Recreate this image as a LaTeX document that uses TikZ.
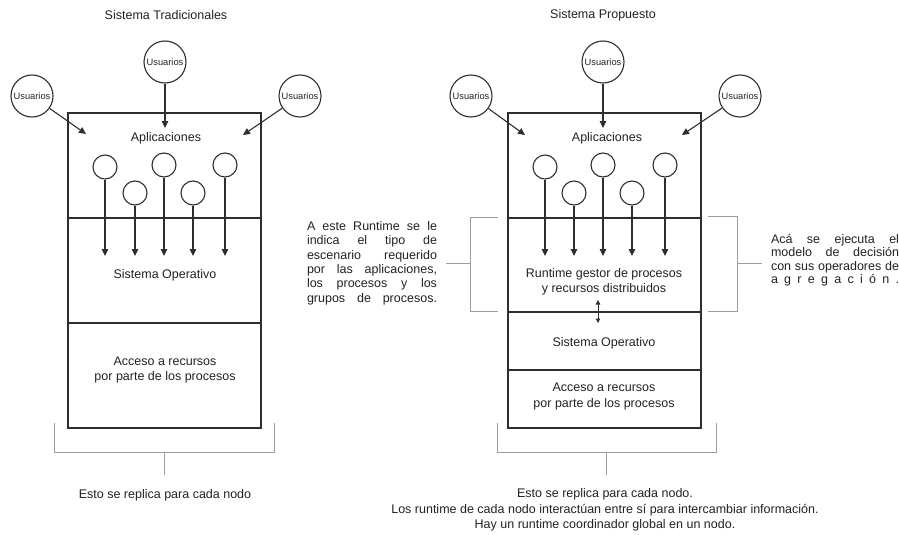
\documentclass[tikz,border=0pt]{standalone}
\usepackage{fontspec}
\setmainfont{Liberation Sans}
\usetikzlibrary{arrows.meta}
\definecolor{ink}{HTML}{222222}
\definecolor{edge}{HTML}{2E2E2E}
\definecolor{brk}{HTML}{9C9C9C}
\begin{document}
\begin{tikzpicture}[x=1pt,y=-1pt,
  txt/.style={font=\fontsize{12.5}{15.5}\selectfont, text=ink, inner sep=0pt, align=center},
  side/.style={font=\fontsize{12.5}{#1}\selectfont, text=ink, inner sep=0pt, align=left},
  user/.style={circle, draw=edge, line width=1.1pt, minimum size=42pt, inner sep=0pt,
    font=\fontsize{9.3}{10}\selectfont, text=ink},
  proc/.style={circle, draw=edge, line width=1.1pt, minimum size=24pt, inner sep=0pt},
  layer/.style={rectangle, draw=edge, line width=1.3pt, inner sep=0pt, minimum width=193pt},
  flow/.style={draw=edge, line width=1.1pt, -{Triangle[length=7pt,width=6.5pt]}},
  dflow/.style={draw=edge, line width=0.8pt, {Triangle[length=4.5pt,width=4.5pt]}-{Triangle[length=4.5pt,width=4.5pt]}},
  brace/.style={draw=brk, line width=1pt},
]
\useasboundingbox (0,0) rectangle (899,535);

% ---------- titles ----------
\node[txt] (title-a) at (166,15) {Sistema Tradicionales};
\node[txt] (title-b) at (603,15) {Sistema Propuesto};

% ---------- traditional stack ----------
\node[layer, minimum height=105pt] (apps-a) at (164.5,165.5) {};
\node[layer, minimum height=105pt] (os-a)   at (164.5,270.5) {};
\node[layer, minimum height=105pt] (acc-a)  at (164.5,375.5) {};
\node[txt] (apps-a-t) at (166,138) {Aplicaciones};
\node[txt] (os-a-t)   at (165,275) {Sistema Operativo};
\node[txt] (acc-a-t)  at (165,370) {Acceso a recursos\\por parte de los procesos};

% users
\node[user] (ua1) at (32,96)  {Usuarios};
\node[user] (ua2) at (165,62) {Usuarios};
\node[user] (ua3) at (300,96) {Usuarios};
\coordinate (ta1) at (86,134);
\coordinate (ta2) at (165,128);
\coordinate (ta3) at (243,135);
\draw[flow] (ua1) -- (ta1);
\draw[flow] (ua2) -- (ta2);
\draw[flow] (ua3) -- (ta3);

% application processes
\foreach \i/\x/\y in {1/105/167,2/135/193,3/164/165,4/193/193,5/225/165}{
  \node[proc] (pa\i) at (\x,\y) {};
  \coordinate (ea\i) at (\x,256);
  \draw[flow] (pa\i) -- (ea\i);
}

% replication bracket
\coordinate (ba1) at (54,423);
\coordinate (ba2) at (54,452);
\coordinate (ba3) at (274,452);
\coordinate (ba4) at (274,423);
\coordinate (ba5) at (164,452);
\coordinate (ba6) at (164,475);
\draw[brace] (ba1) -- (ba2) -- (ba3) -- (ba4);
\draw[brace] (ba5) -- (ba6);
\node[txt] (note-a) at (165,495) {Esto se replica para cada nodo};

% ---------- proposed stack ----------
\node[layer, minimum height=105pt] (apps-b) at (604.5,165.5) {};
\node[layer, minimum height=94pt]  (rt-b)   at (604.5,265) {};
\node[layer, minimum height=58pt]  (os-b)   at (604.5,341) {};
\node[layer, minimum height=58pt]  (acc-b)  at (604.5,399) {};
\node[txt] (apps-b-t) at (607,138) {Aplicaciones};
\node[txt] (rt-b-t)   at (604,282) {Runtime gestor de procesos\\y recursos distribuidos};
\node[txt] (os-b-t)   at (604,343) {Sistema Operativo};
\node[txt] (acc-b-t)  at (604,396.5) {Acceso a recursos\\por parte de los procesos};

% runtime <-> operating system
\coordinate (da1) at (598,300);
\coordinate (da2) at (598,323);
\draw[dflow] (da1) -- (da2);

% users
\node[user] (ub1) at (471,96)  {Usuarios};
\node[user] (ub2) at (603,62)  {Usuarios};
\node[user] (ub3) at (740,96)  {Usuarios};
\coordinate (tb1) at (525,135);
\coordinate (tb2) at (603,128);
\coordinate (tb3) at (682,135);
\draw[flow] (ub1) -- (tb1);
\draw[flow] (ub2) -- (tb2);
\draw[flow] (ub3) -- (tb3);

% application processes
\foreach \i/\x/\y in {1/545/167,2/574/193,3/603/165,4/632/193,5/665/165}{
  \node[proc] (pb\i) at (\x,\y) {};
  \coordinate (eb\i) at (\x,256);
  \draw[flow] (pb\i) -- (eb\i);
}

% bracket and note on the left of the runtime
\coordinate (lb1) at (498,217);
\coordinate (lb2) at (470,217);
\coordinate (lb3) at (470,311);
\coordinate (lb4) at (498,311);
\coordinate (lb5) at (470,263);
\coordinate (lb6) at (446,263);
\draw[brace] (lb1) -- (lb2) -- (lb3) -- (lb4);
\draw[brace] (lb5) -- (lb6);
\node[side=14.4pt] (note-l) at (372,263) {%
  \makebox[130pt][s]{A este Runtime se le}\\
  \makebox[130pt][s]{indica el tipo de}\\
  \makebox[130pt][s]{escenario requerido}\\
  \makebox[130pt][s]{por las aplicaciones,}\\
  \makebox[130pt][s]{los procesos y los}\\
  \makebox[130pt][s]{grupos de procesos.}};

% bracket and note on the right of the runtime
\coordinate (rb1) at (708,216);
\coordinate (rb2) at (737,216);
\coordinate (rb3) at (737,311);
\coordinate (rb4) at (708,311);
\coordinate (rb5) at (737,263);
\coordinate (rb6) at (762,263);
\draw[brace] (rb1) -- (rb2) -- (rb3) -- (rb4);
\draw[brace] (rb5) -- (rb6);
\node[side=13.5pt] (note-r) at (835,260) {%
  \makebox[128pt][s]{Acá se ejecuta el}\\
  \makebox[128pt][s]{modelo de decisión}\\
  \makebox[128pt][s]{con sus operadores de}\\
  \makebox[128pt][s]{a g r e g a c i ó n .}};

% replication bracket
\coordinate (bb1) at (497,423);
\coordinate (bb2) at (497,452);
\coordinate (bb3) at (716,452);
\coordinate (bb4) at (716,423);
\coordinate (bb5) at (606.5,452);
\coordinate (bb6) at (606.5,475);
\draw[brace] (bb1) -- (bb2) -- (bb3) -- (bb4);
\draw[brace] (bb5) -- (bb6);
\node[txt] (note-b) at (605,510) {Esto se replica para cada nodo.\\
  Los runtime de cada nodo interactúan entre sí para intercambiar información.\\
  Hay un runtime coordinador global en un nodo.};
\end{tikzpicture}
\end{document}
